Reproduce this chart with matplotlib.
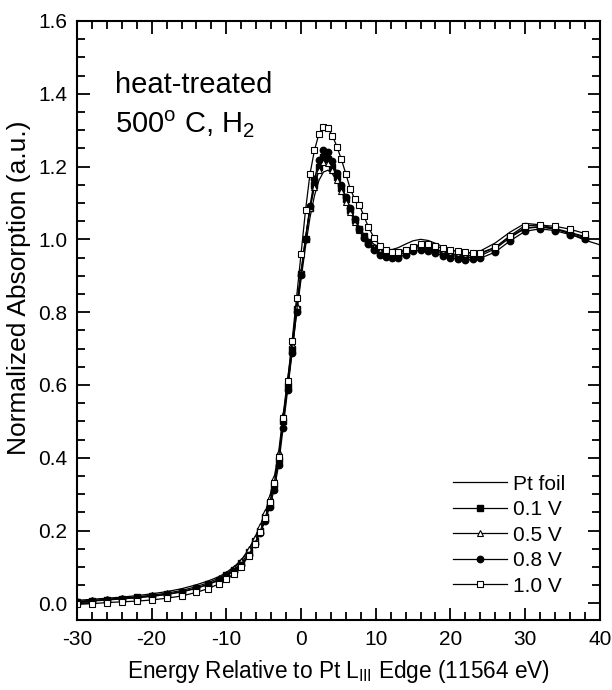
import matplotlib
matplotlib.use("Agg")
import matplotlib.pyplot as plt
from matplotlib.ticker import MultipleLocator

plt.rcParams['font.family'] = ['Liberation Sans', 'DejaVu Sans']
plt.rcParams['mathtext.fontset'] = 'custom'
plt.rcParams['mathtext.rm'] = 'Liberation Sans'
plt.rcParams['mathtext.it'] = 'Liberation Sans'
plt.rcParams['axes.unicode_minus'] = False

energy = [-30, -28, -26, -24, -22, -20, -18, -16, -14, -12.5, -11, -10, -9, -8, -7,
          -6.2, -5.5, -4.8, -4.2, -3.6, -3.0, -2.4, -1.8, -1.2, -0.6, 0.0, 0.6, 1.2,
          1.8, 2.4, 3.0, 3.6, 4.2, 4.8, 5.4, 6.0, 6.6, 7.2, 7.8, 8.4, 9.0, 9.8, 10.6,
          11.4, 12.2, 13.0, 14.0, 15.0, 16.0, 17.0, 18.0, 19.0, 20.0, 21.0, 22.0,
          23.0, 24.0, 26.0, 28.0, 30.0, 32.0, 34.0, 36.0, 38.0]

energy_foil = energy + [40.0]

pt_foil = [0.008, 0.011, 0.014, 0.017, 0.021, 0.026, 0.032, 0.040, 0.051, 0.061, 0.073,
           0.085, 0.100, 0.119, 0.148, 0.178, 0.209, 0.245, 0.285, 0.335, 0.400, 0.498,
           0.595, 0.692, 0.795, 0.890, 0.980, 1.060, 1.120, 1.162, 1.185, 1.190, 1.180,
           1.160, 1.135, 1.108, 1.080, 1.055, 1.033, 1.014, 1.000, 0.986, 0.977, 0.972,
           0.972, 0.977, 0.987, 0.996, 1.000, 0.997, 0.989, 0.980, 0.972, 0.966, 0.962,
           0.963, 0.968, 0.990, 1.020, 1.044, 1.040, 1.030, 1.015, 0.998, 0.985]

v01 = [0.004, 0.007, 0.010, 0.013, 0.016, 0.020, 0.025, 0.032, 0.042, 0.052, 0.065,
       0.077, 0.092, 0.110, 0.140, 0.170, 0.200, 0.236, 0.275, 0.325, 0.395, 0.500,
       0.598, 0.698, 0.808, 0.905, 1.000, 1.085, 1.150, 1.200, 1.225, 1.222, 1.200,
       1.170, 1.140, 1.110, 1.080, 1.052, 1.028, 1.008, 0.992, 0.976, 0.965, 0.958,
       0.955, 0.957, 0.965, 0.974, 0.978, 0.976, 0.969, 0.962, 0.957, 0.952, 0.950,
       0.951, 0.955, 0.974, 1.005, 1.030, 1.034, 1.028, 1.017, 1.005]

v05 = [0.005, 0.008, 0.011, 0.014, 0.018, 0.022, 0.028, 0.035, 0.046, 0.056, 0.069,
       0.081, 0.097, 0.117, 0.148, 0.180, 0.212, 0.250, 0.292, 0.345, 0.415, 0.518,
       0.615, 0.712, 0.818, 0.912, 1.005, 1.085, 1.145, 1.190, 1.212, 1.210, 1.190,
       1.162, 1.132, 1.103, 1.075, 1.048, 1.025, 1.006, 0.992, 0.978, 0.968, 0.962,
       0.960, 0.962, 0.970, 0.978, 0.982, 0.980, 0.973, 0.966, 0.961, 0.957, 0.955,
       0.956, 0.960, 0.978, 1.008, 1.032, 1.035, 1.030, 1.019, 1.008]

v08 = [0.004, 0.006, 0.009, 0.012, 0.015, 0.019, 0.024, 0.031, 0.041, 0.051, 0.063,
       0.075, 0.089, 0.106, 0.133, 0.162, 0.192, 0.226, 0.265, 0.312, 0.380, 0.482,
       0.585, 0.688, 0.800, 0.902, 1.002, 1.092, 1.165, 1.218, 1.245, 1.240, 1.215,
       1.182, 1.150, 1.117, 1.085, 1.055, 1.028, 1.005, 0.988, 0.970, 0.958, 0.951,
       0.948, 0.950, 0.958, 0.967, 0.971, 0.969, 0.962, 0.955, 0.950, 0.946, 0.944,
       0.945, 0.948, 0.965, 0.996, 1.022, 1.029, 1.024, 1.013, 1.002]

v10 = [-0.003, -0.001, 0.002, 0.004, 0.006, 0.009, 0.014, 0.020, 0.030, 0.040, 0.053,
       0.066, 0.081, 0.101, 0.131, 0.163, 0.197, 0.235, 0.278, 0.330, 0.402, 0.508,
       0.610, 0.720, 0.840, 0.960, 1.080, 1.180, 1.245, 1.290, 1.308, 1.305, 1.285,
       1.255, 1.220, 1.180, 1.138, 1.110, 1.095, 1.065, 1.035, 1.003, 0.982, 0.970,
       0.966, 0.966, 0.972, 0.980, 0.986, 0.988, 0.982, 0.975, 0.970, 0.967, 0.964,
       0.963, 0.963, 0.978, 1.010, 1.038, 1.039, 1.036, 1.028, 1.016]

labels = ['Pt foil', '0.1 V', '0.5 V', '0.8 V', '1.0 V']

fig = plt.figure(figsize=(6.12, 6.9), dpi=100)
ax = fig.add_axes([0.1258, 0.1014, 0.8542, 0.8682])

lw = 0.9
ms = 4.0
ax.plot(energy_foil, pt_foil, color='black', lw=lw, label=labels[0])
ax.plot(energy, v01, color='black', lw=lw, marker='s', ms=ms, mfc='black', mec='black', label=labels[1])
ax.plot(energy, v05, color='black', lw=lw, marker='^', ms=ms + 0.5, mfc='white', mec='black', mew=0.8, label=labels[2])
ax.plot(energy, v08, color='black', lw=lw, marker='o', ms=ms + 0.6, mfc='black', mec='black', label=labels[3])
ax.plot(energy, v10, color='black', lw=lw, marker='s', ms=ms, mfc='white', mec='black', mew=0.8, label=labels[4])

ax.set_xlim(-30, 40)
ax.set_ylim(-0.046, 1.6)
ax.xaxis.set_major_locator(MultipleLocator(10))
ax.xaxis.set_minor_locator(MultipleLocator(2))
ax.yaxis.set_major_locator(MultipleLocator(0.2))
ax.yaxis.set_minor_locator(MultipleLocator(0.05))
ax.yaxis.set_major_formatter(matplotlib.ticker.FormatStrFormatter('%.1f'))
ax.tick_params(which='both', direction='in', top=True, right=True, width=1.3, labelsize=15)
ax.tick_params(which='major', length=9, pad=7)
ax.tick_params(which='minor', length=5.5)
for s in ax.spines.values():
    s.set_linewidth(1.5)

ax.set_xlabel('Energy Relative to Pt L$_{\\rm III}$ Edge (11564 eV)', fontsize=16.3, labelpad=7)
ax.set_ylabel('Normalized Absorption (a.u.)', fontsize=19)
ax.yaxis.set_label_coords(-0.088, 0.554)

ax.text(0.073, 0.880, 'heat-treated', transform=ax.transAxes, fontsize=21, ha='left', va='baseline')
ax.text(0.073, 0.813, '500$^{\\rm o}$ C, H$_2$', transform=ax.transAxes, fontsize=21, ha='left', va='baseline')

leg = ax.legend(loc='lower right', frameon=False, fontsize=15, handlelength=2.6,
                handletextpad=0.3, labelspacing=0.31, borderaxespad=0.0,
                bbox_to_anchor=(0.950, 0.027))

fig.savefig('out.png', dpi=100)
